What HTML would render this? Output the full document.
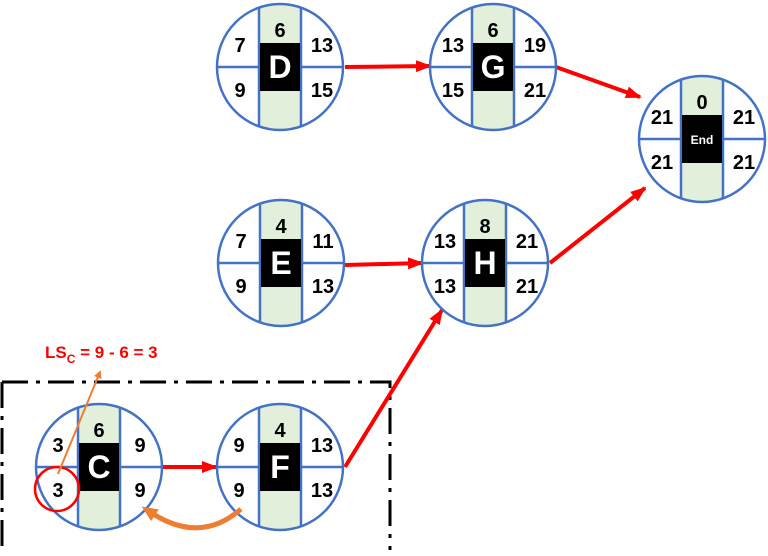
<!DOCTYPE html>
<html><head><meta charset="utf-8"><style>
body{margin:0;background:#fff;}
svg{display:block;font-family:"Liberation Sans",Arial,sans-serif;font-weight:bold;}
.n{font-size:20px;fill:#000;text-anchor:middle;}
.l{font-size:32px;fill:#fff;text-anchor:middle;}
</style></head><body>
<svg width="768" height="556" viewBox="0 0 768 556">
<defs>
<clipPath id="cc" clipPathUnits="userSpaceOnUse"><circle cx="0" cy="0" r="63"/></clipPath>
<marker id="ar" markerWidth="16" markerHeight="12" refX="14" refY="6" orient="auto" markerUnits="userSpaceOnUse"><path d="M0,0 L16,6 L0,12 z" fill="#f00"/></marker>
<marker id="ao" markerWidth="16" markerHeight="14" refX="6" refY="7" orient="auto" markerUnits="userSpaceOnUse"><path d="M0,0 L16,7 L0,14 z" fill="#ed7d31"/></marker>
<marker id="ao2" markerWidth="8" markerHeight="8" refX="6" refY="4" orient="auto" markerUnits="userSpaceOnUse"><path d="M0,0 L8,4 L0,8 z" fill="#ed7d31"/></marker>
<g id="node">
<circle r="63" fill="#fff"/>
<rect x="-21" y="-64" width="42" height="128" fill="#e2efda" clip-path="url(#cc)"/>
<g clip-path="url(#cc)" stroke="#4472c4" stroke-width="2.5">
<line x1="-21" y1="-64" x2="-21" y2="64"/><line x1="21" y1="-64" x2="21" y2="64"/>
<line x1="-64" y1="0" x2="64" y2="0"/></g>
<rect x="-20" y="-24" width="40" height="48" fill="#000"/>
<circle r="63" fill="none" stroke="#4472c4" stroke-width="2.5"/>
</g>
</defs>
<path d="M2,382 H390 V550 M2,382 V550" fill="none" stroke="#000" stroke-width="3" stroke-dasharray="26,8,4,8"/>
<g stroke="#f00" stroke-width="4" fill="none" marker-end="url(#ar)">
<line x1="345" y1="67" x2="430" y2="66"/>
<line x1="556" y1="67" x2="640" y2="97"/>
<line x1="345" y1="265" x2="422" y2="263"/>
<line x1="550" y1="263" x2="645" y2="188"/>
<line x1="163" y1="467" x2="216" y2="467"/>
<line x1="345" y1="467" x2="442" y2="310"/>
</g>
<g transform="translate(280,67)"><use href="#node"/><text class="l" y="11">D</text><text class="n" y="-30">6</text><text class="n" x="-40" y="-15">7</text><text class="n" x="-40" y="30">9</text><text class="n" x="42" y="-15">13</text><text class="n" x="42" y="30">15</text></g>
<g transform="translate(493,67)"><use href="#node"/><text class="l" y="11">G</text><text class="n" y="-30">6</text><text class="n" x="-40" y="-15">13</text><text class="n" x="-40" y="30">15</text><text class="n" x="42" y="-15">19</text><text class="n" x="42" y="30">21</text></g>
<g transform="translate(702,139)"><use href="#node"/><text x="0" y="5" fill="#fff" font-size="12" text-anchor="middle">End</text><text class="n" y="-30">0</text><text class="n" x="-40" y="-15">21</text><text class="n" x="-40" y="30">21</text><text class="n" x="42" y="-15">21</text><text class="n" x="42" y="30">21</text></g>
<g transform="translate(281,263)"><use href="#node"/><text class="l" y="11">E</text><text class="n" y="-30">4</text><text class="n" x="-40" y="-15">7</text><text class="n" x="-40" y="30">9</text><text class="n" x="42" y="-15">11</text><text class="n" x="42" y="30">13</text></g>
<g transform="translate(485,263)"><use href="#node"/><text class="l" y="11">H</text><text class="n" y="-30">8</text><text class="n" x="-40" y="-15">13</text><text class="n" x="-40" y="30">13</text><text class="n" x="42" y="-15">21</text><text class="n" x="42" y="30">21</text></g>
<g transform="translate(99,467)"><use href="#node"/><text class="l" y="11">C</text><text class="n" y="-30">6</text><text class="n" x="-41" y="-15">3</text><text class="n" x="-41" y="30">3</text><text class="n" x="41" y="-15">9</text><text class="n" x="41" y="30">9</text></g>
<g transform="translate(280,467)"><use href="#node"/><text class="l" y="11">F</text><text class="n" y="-30">4</text><text class="n" x="-41" y="-15">9</text><text class="n" x="-41" y="30">9</text><text class="n" x="42" y="-15">13</text><text class="n" x="42" y="30">13</text></g>
<circle cx="57" cy="489" r="22" fill="none" stroke="#f00" stroke-width="2.5"/>
<line x1="58" y1="474" x2="100" y2="372" stroke="#ed7d31" stroke-width="2" marker-end="url(#ao2)"/>
<path d="M241,509 Q200,545 150,512" fill="none" stroke="#ed7d31" stroke-width="5" marker-end="url(#ao)"/>
<text x="45" y="358" fill="#f00" font-size="17">LS<tspan font-size="12" dy="5">C</tspan><tspan dy="-5"> = 9 - 6 = 3</tspan></text>
</svg>
</body></html>
